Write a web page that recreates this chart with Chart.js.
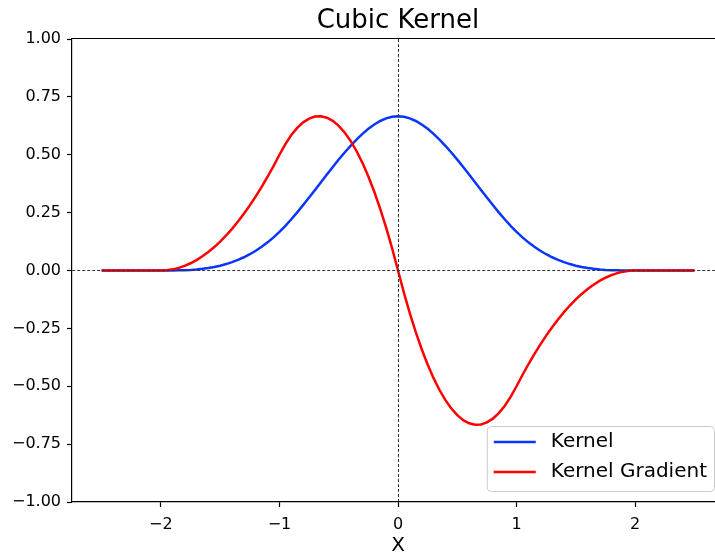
<!DOCTYPE html>
<html>
<head>
<meta charset="utf-8">
<script src="https://cdn.jsdelivr.net/npm/chart.js@4/dist/chart.umd.min.js"></script>
<style>
  html, body { margin: 0; padding: 0; background: #fff; overflow: hidden; }
  #wrap { width: 730px; height: 555px; position: relative; }
</style>
</head>
<body>
<div id="wrap"><canvas id="chart"></canvas></div>
<script>
// Sample positions of the cubic spline kernel (h = 1)
const xValues = [
  -2.5, -2.45, -2.4, -2.35, -2.3, -2.25, -2.2, -2.15, -2.1, -2.05, -2,
  -1.95, -1.9, -1.85, -1.8, -1.75, -1.7, -1.65, -1.6, -1.55, -1.5,
  -1.45, -1.4, -1.35, -1.3, -1.25, -1.2, -1.15, -1.1, -1.05, -1,
  -0.95, -0.9, -0.85, -0.8, -0.75, -0.7, -0.65, -0.6, -0.55, -0.5,
  -0.45, -0.4, -0.35, -0.3, -0.25, -0.2, -0.15, -0.1, -0.05,
  0,
  0.05, 0.1, 0.15, 0.2, 0.25, 0.3, 0.35, 0.4, 0.45,
  0.5, 0.55, 0.6, 0.65, 0.7, 0.75, 0.8, 0.85, 0.9, 0.95,
  1, 1.05, 1.1, 1.15, 1.2, 1.25, 1.3, 1.35, 1.4, 1.45,
  1.5, 1.55, 1.6, 1.65, 1.7, 1.75, 1.8, 1.85, 1.9, 1.95,
  2, 2.05, 2.1, 2.15, 2.2, 2.25, 2.3, 2.35, 2.4, 2.45, 2.5
];

// Kernel W(x)
const kernelValues = [
  0, 0, 0, 0, 0, 0, 0, 0, 0, 0, 0,
  0.000021, 0.000167, 0.000563, 0.001333, 0.002604, 0.0045, 0.007146, 0.010667, 0.015188, 0.020833,
  0.027729, 0.036, 0.045771, 0.057167, 0.070313, 0.085333, 0.102354, 0.1215, 0.142896, 0.166667,
  0.192854, 0.221167, 0.251229, 0.282667, 0.315104, 0.348167, 0.381479, 0.414667, 0.447354, 0.479167,
  0.509729, 0.538667, 0.565604, 0.590167, 0.611979, 0.630667, 0.645854, 0.657167, 0.664229,
  0.666667,
  0.664229, 0.657167, 0.645854, 0.630667, 0.611979, 0.590167, 0.565604, 0.538667, 0.509729,
  0.479167, 0.447354, 0.414667, 0.381479, 0.348167, 0.315104, 0.282667, 0.251229, 0.221167, 0.192854,
  0.166667, 0.142896, 0.1215, 0.102354, 0.085333, 0.070313, 0.057167, 0.045771, 0.036, 0.027729,
  0.020833, 0.015188, 0.010667, 0.007146, 0.0045, 0.002604, 0.001333, 0.000563, 0.000167, 0.000021,
  0, 0, 0, 0, 0, 0, 0, 0, 0, 0, 0
];

// Kernel gradient dW/dx
const gradientValues = [
  0, 0, 0, 0, 0, 0, 0, 0, 0, 0, 0,
  0.00125, 0.005, 0.01125, 0.02, 0.03125, 0.045, 0.06125, 0.08, 0.10125, 0.125,
  0.15125, 0.18, 0.21125, 0.245, 0.28125, 0.32, 0.36125, 0.405, 0.45125, 0.5,
  0.54625, 0.585, 0.61625, 0.64, 0.65625, 0.665, 0.66625, 0.66, 0.64625, 0.625,
  0.59625, 0.56, 0.51625, 0.465, 0.40625, 0.34, 0.26625, 0.185, 0.09625,
  0,
  -0.09625, -0.185, -0.26625, -0.34, -0.40625, -0.465, -0.51625, -0.56, -0.59625,
  -0.625, -0.64625, -0.66, -0.66625, -0.665, -0.65625, -0.64, -0.61625, -0.585, -0.54625,
  -0.5, -0.45125, -0.405, -0.36125, -0.32, -0.28125, -0.245, -0.21125, -0.18, -0.15125,
  -0.125, -0.10125, -0.08, -0.06125, -0.045, -0.03125, -0.02, -0.01125, -0.005, -0.00125,
  0, 0, 0, 0, 0, 0, 0, 0, 0, 0, 0
];

const seriesNames = ['Kernel', 'Kernel Gradient'];
const xTicks = [-2, -1, 0, 1, 2];
const yTicks = [-1, -0.75, -0.5, -0.25, 0, 0.25, 0.5, 0.75, 1];
const chartTitle = 'Cubic Kernel';

const FONT = "'DejaVu Sans', 'Liberation Sans', sans-serif";
Chart.defaults.font.family = FONT;
Chart.defaults.color = '#000';

const minus = v => (v < 0 ? '\u2212' : '') + Math.abs(v);

const toPoints = ys => xValues.map((x, i) => ({ x: x, y: ys[i] }));

// Title centred over the plot area, plus the top spine of the frame
const frameAndTitle = {
  id: 'frameAndTitle',
  afterDraw(chart) {
    const { ctx, chartArea } = chart;
    ctx.save();
    ctx.strokeStyle = '#000';
    ctx.lineWidth = 1.2;
    ctx.beginPath();
    ctx.moveTo(chartArea.left, Math.round(chartArea.top) - 0.5);
    ctx.lineTo(chartArea.right, Math.round(chartArea.top) - 0.5);
    ctx.stroke();
    ctx.font = '26px ' + FONT;
    ctx.fillStyle = '#000';
    ctx.textAlign = 'center';
    ctx.textBaseline = 'alphabetic';
    ctx.fillText(chartTitle, (chartArea.left + chartArea.right) / 2, chartArea.top - 11);
    ctx.restore();
  }
};

// Legend box anchored in the lower right corner of the plot area
const innerLegend = {
  id: 'innerLegend',
  afterDraw(chart) {
    const { ctx, chartArea } = chart;
    const ds = chart.data.datasets;
    ctx.save();
    ctx.font = '20px ' + FONT;
    let textW = 0;
    ds.forEach(d => { textW = Math.max(textW, ctx.measureText(d.label).width); });
    const padX = 7, handle = 42, gap = 15, rowH = 30, padTop = 16;
    const w = padX + handle + gap + textW + padX;
    const h = 65;
    const right = Math.round(chartArea.right) - 10;
    const bottom = Math.round(chartArea.bottom) - 11;
    const left = right - w, top = bottom - h;
    ctx.beginPath();
    ctx.roundRect(left + 0.5, top + 0.5, w, h, 4);
    ctx.fillStyle = 'rgba(255,255,255,0.8)';
    ctx.fill();
    ctx.strokeStyle = '#cccccc';
    ctx.lineWidth = 1;
    ctx.stroke();
    ds.forEach((d, i) => {
      const cy = top + padTop + i * rowH;
      ctx.strokeStyle = d.borderColor;
      ctx.lineWidth = d.borderWidth;
      ctx.beginPath();
      ctx.moveTo(left + padX, cy);
      ctx.lineTo(left + padX + handle, cy);
      ctx.stroke();
      ctx.fillStyle = '#000';
      ctx.textBaseline = 'middle';
      ctx.textAlign = 'left';
      ctx.fillText(d.label, left + padX + handle + gap, cy);
    });
    ctx.restore();
  }
};

const zeroLine = (ctx) => (ctx.tick && ctx.tick.value === 0) ? '#333333' : 'rgba(0,0,0,0)';

new Chart(document.getElementById('chart'), {
  type: 'line',
  data: {
    datasets: [
      {
        label: seriesNames[0],
        data: toPoints(kernelValues),
        borderColor: '#0a35ff',
        borderWidth: 2.5,
        pointRadius: 0,
        tension: 0,
        fill: false,
        order: 1
      },
      {
        label: seriesNames[1],
        data: toPoints(gradientValues),
        borderColor: '#ff0000',
        borderWidth: 2.5,
        pointRadius: 0,
        tension: 0,
        fill: false,
        order: 0
      }
    ]
  },
  options: {
    responsive: true,
    maintainAspectRatio: false,
    animation: false,
    layout: { padding: { left: 0, right: 6, top: 39, bottom: 0 } },
    plugins: {
      legend: { display: false },
      tooltip: { enabled: false },
      title: { display: false }
    },
    scales: {
      x: {
        type: 'linear',
        min: -2.75,
        max: 2.75,
        afterBuildTicks: s => { s.ticks = xTicks.map(v => ({ value: v })); },
        afterFit: s => { s.height = 53; },
        ticks: {
          autoSkip: false,
          maxRotation: 0,
          padding: 8,
          color: '#000',
          font: { size: 16 },
          callback: v => minus(v)
        },
        grid: {
          z: 1,
          color: zeroLine,
          lineWidth: 1,
          drawTicks: true,
          tickLength: 5,
          tickColor: '#000',
          tickWidth: 1.2
        },
        border: { display: true, color: '#000', width: 1.2, dash: [3, 2], z: 1 },
        title: {
          display: true,
          text: 'X',
          color: '#000',
          font: { size: 20, lineHeight: 0.9 },
          padding: { top: 0, bottom: 0 }
        }
      },
      y: {
        type: 'linear',
        min: -1,
        max: 1,
        afterBuildTicks: s => { s.ticks = yTicks.map(v => ({ value: v })); },
        afterFit: s => { s.width = 72; },
        ticks: {
          autoSkip: false,
          padding: 6,
          color: '#000',
          font: { size: 16 },
          callback: v => (v < 0 ? '\u2212' : '') + Math.abs(v).toFixed(2)
        },
        grid: {
          z: 1,
          color: zeroLine,
          lineWidth: 1,
          drawTicks: true,
          tickLength: 5,
          tickColor: '#000',
          tickWidth: 1.2
        },
        border: { display: true, color: '#000', width: 1.2, dash: [3, 2], z: 1 }
      }
    }
  },
  plugins: [frameAndTitle, innerLegend]
});
</script>
</body>
</html>
